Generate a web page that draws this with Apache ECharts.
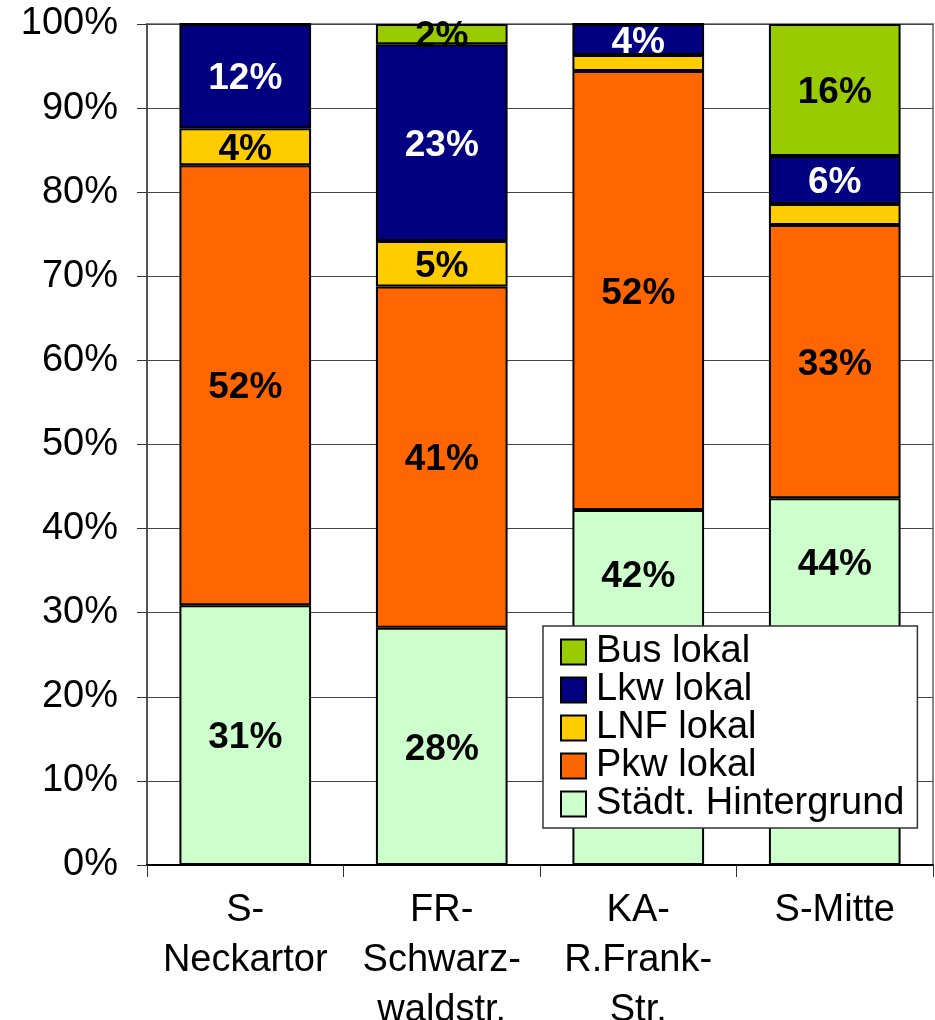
<!DOCTYPE html>
<html>
<head>
<meta charset="utf-8">
<script src="https://cdn.jsdelivr.net/npm/echarts@6/dist/echarts.min.js"></script>
<style>
html,body{margin:0;padding:0;background:#fff;}
#chart{width:935px;height:1020px;}
</style>
</head>
<body>
<div id="chart"></div>
<script>
const categories = ['S-\nNeckartor', 'FR-\nSchwarz-\nwaldstr.', 'KA-\nR.Frank-\nStr.', 'S-Mitte'];
const staedt = [30.9, 28.2, 42.2, 43.6];
const pkw = [52.3, 40.6, 52.2, 32.5];
const lnf = [4.4, 5.4, 1.9, 2.5];
const lkw = [12.4, 23.4, 3.7, 5.7];
const bus = [0, 2.4, 0, 15.7];
const yTicks = [0, 10, 20, 30, 40, 50, 60, 70, 80, 90, 100];
const hiddenLabels = { 'LNF lokal': [2, 3] };
const raisedLabels = { 'Städt. Hintergrund': [2, 3] };

const FONT = '"Liberation Sans", Arial, sans-serif';
const colors = {
  'Städt. Hintergrund': '#CCFFCC',
  'Pkw lokal': '#FF6600',
  'LNF lokal': '#FFCC00',
  'Lkw lokal': '#000080',
  'Bus lokal': '#99CC00'
};
const seriesDefs = [
  ['Städt. Hintergrund', staedt, '#000'],
  ['Pkw lokal', pkw, '#000'],
  ['LNF lokal', lnf, '#000'],
  ['Lkw lokal', lkw, '#fff'],
  ['Bus lokal', bus, '#000']
];

const chart = echarts.init(document.getElementById('chart'), null, {renderer: 'canvas'});
chart.setOption({
  animation: false,
  textStyle: {fontFamily: FONT},
  grid: {left: 147, right: 2, top: 24, bottom: 155, containLabel: false, outerBoundsMode: 'none', show: true, borderColor: '#888', borderWidth: 2, backgroundColor: 'transparent'},
  legend: {
    data: ['Bus lokal', 'Lkw lokal', 'LNF lokal', 'Pkw lokal', 'Städt. Hintergrund'],
    orient: 'vertical',
    left: 543, top: 626,
    padding: [7, 13, 5, 17],
    backgroundColor: '#fff',
    borderColor: '#333',
    borderWidth: 1.5,
    borderRadius: 0,
    itemWidth: 25, itemHeight: 25,
    itemGap: 0,
    icon: 'rect',
    itemStyle: {borderColor: '#000', borderWidth: 2},
    textStyle: {fontFamily: FONT, fontSize: 38, color: '#000', lineHeight: 38, padding: [0, 0, 0, 5]}
  },
  xAxis: {
    type: 'category',
    data: categories,
    axisLine: {lineStyle: {color: '#000', width: 2}},
    axisTick: {show: true, length: 12, lineStyle: {color: '#333', width: 1}},
    axisLabel: {fontFamily: FONT, fontSize: 38, color: '#000', lineHeight: 50, margin: 21, interval: 0}
  },
  yAxis: {
    type: 'value',
    min: 0, max: 100, interval: 10,
    axisLine: {show: true, lineStyle: {color: '#555', width: 2}},
    axisTick: {show: true, length: 10, lineStyle: {color: '#333', width: 1}},
    splitLine: {show: true, lineStyle: {color: '#444', width: 1}},
    axisLabel: {
      fontFamily: FONT, fontSize: 38, color: '#000', margin: 29,
      formatter: v => yTicks.includes(v) ? v + '%' : ''
    }
  },
  series: seriesDefs.map(([name, values, lc]) => ({
    name: name,
    type: 'bar',
    stack: 'total',
    barWidth: '67%',
    data: values.map((v, i) => (raisedLabels[name] && raisedLabels[name].includes(i))
      ? {value: v, label: {position: 'insideTop', distance: 48, offset: [0, 0]}}
      : v),
    itemStyle: {color: colors[name], borderColor: '#000', borderWidth: 2},
    label: {
      show: true,
      position: 'inside',
      offset: [0, 3],
      color: lc,
      fontFamily: FONT,
      fontSize: 37,
      fontWeight: 'bold',
      formatter: p => {
        if (p.value <= 0) return '';
        if (hiddenLabels[name] && hiddenLabels[name].includes(p.dataIndex)) return '';
        return Math.round(p.value) + '%';
      }
    }
  }))
});
</script>
</body>
</html>
